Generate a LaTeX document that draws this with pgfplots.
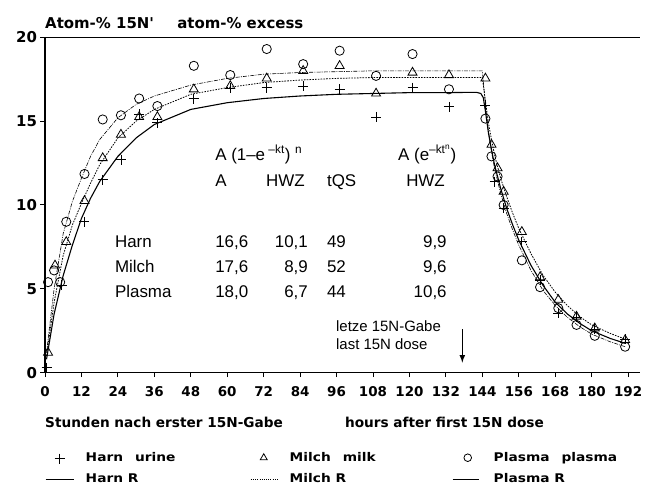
\documentclass[border=0pt]{standalone}
\usepackage{pgfplots}
\pgfplotsset{compat=1.18}
\usepackage{fontspec}
\setmainfont{Liberation Sans}
\newfontfamily\heavy{DejaVu Sans}
\newfontfamily\heavyx[FakeStretch=1.15]{DejaVu Sans}
\newcommand\hv{\heavy\bfseries}
\newcommand\hvx{\heavyx\bfseries}
\pgfplotsset{
  legA/.style={legend image code/.code={\path[draw=none,fill=none] (0,-4bp) rectangle (32bp,4bp); \draw[##1] plot coordinates {(14bp,0)};}},
  legB/.style={legend image code/.code={\path[draw=none,fill=none] (0,-4bp) rectangle (32bp,4bp); \draw[##1, mark size=4bp] plot coordinates {(15bp,1bp)};}},
  legC/.style={legend image code/.code={\path[draw=none,fill=none] (0,-4bp) rectangle (35bp,4bp); \draw[##1, mark size=3.8bp] plot coordinates {(22bp,1bp)};}},
  legD/.style={legend image code/.code={\path[draw=none,fill=none] (0,-4bp) rectangle (32bp,4bp); \draw[##1] (0bp,0) -- (28bp,0);}},
  legE/.style={legend image code/.code={\path[draw=none,fill=none] (0,-4bp) rectangle (32bp,4bp); \draw[##1, line width=0.6pt, dash pattern=on 1pt off 1.2pt] (2bp,0) -- (29bp,0);}},
  legF/.style={legend image code/.code={\path[draw=none,fill=none] (0,-4bp) rectangle (35bp,4bp); \draw[##1, solid] (7bp,0) -- (33bp,0);}},
}
\begin{document}
\begin{tikzpicture}
\path[use as bounding box] (0,0) rectangle (649bp,490bp);
\begin{axis}[
  at={(45bp,117.3bp)}, anchor=south west,
  scale only axis, width=595bp, height=335.4bp,
  xmin=0, xmax=195.9, ymin=0, ymax=20,
  axis x line*=box, axis y line*=left,
  xtick={0,12,...,192}, ytick={0,5,...,20},
  xtick pos=left, ytick pos=left,
  tick align=outside, major tick length=4.5bp,
  axis line style={line width=1.1pt},
  every tick/.style={line width=1pt, black},
  xticklabel style={font=\hv\fontsize{13.5}{14}\selectfont, yshift=-6bp},
  yticklabel style={font=\hv\fontsize{15}{15}\selectfont},
  /pgf/number format/assume math mode=true,
  clip=false,
  legend columns=3,
  legend cell align=left,
  legend style={at={(axis description cs:0,-0.238)}, anchor=north west,
    draw=none, fill=none, inner sep=0pt, row sep=8.5bp, column sep=0pt,
    font=\hvx\fontsize{12}{12}\selectfont,
    nodes={inner sep=0pt, text height=9bp, text depth=3bp}},
]
% data
\addplot[only marks, mark=+, mark size=5bp, mark options={line width=0.8pt}, legA]
  coordinates {(0.5,0.3)(5.5,5.2)(13,9.0)(19,11.5)(25,12.7)(31,15.4)(37,14.9)(49,16.35)(61,16.95)(73,17.0)(85,17.1)(97,16.9)(109,15.25)(121,17.0)(133,15.85)(145,15.95)(148,11.4)(151,9.8)(157,7.8)(163,5.5)(169,3.55)(175,3.3)(181,2.6)(191,2.0)};
\addlegendentry{\makebox[171bp][l]{\hspace{8bp}Harn\hspace{12bp}urine}}
\addplot[only marks, mark=triangle, mark size=5.2bp, mark options={line width=0.8pt}, legB]
  coordinates {(1,1.2)(3.3,6.4)(7,7.8)(13,10.25)(19,12.8)(25,14.2)(31,15.25)(37,15.25)(49,16.9)(61,17.1)(73,17.55)(85,18.0)(97,18.3)(109,16.65)(121,17.9)(133,17.75)(145,17.55)(147,13.6)(149,12.2)(151,10.8)(157,8.4)(163,5.7)(169,4.35)(175,3.35)(181,2.65)(191,1.95)};
\addlegendentry{\makebox[165bp][l]{\hspace{9bp}Milch\hspace{12bp}milk}}
\addplot[only marks, mark=o, mark size=4.6bp, mark options={line width=0.8pt}, legC]
  coordinates {(1,5.4)(3,6.1)(5,5.4)(7,9.0)(13,11.85)(19,15.1)(25,15.35)(31,16.35)(37,15.9)(49,18.3)(61,17.75)(73,19.3)(85,18.4)(97,19.2)(109,17.7)(121,19.0)(133,16.9)(145,15.15)(147,12.9)(149,11.7)(151,10.0)(157,6.7)(163,5.1)(169,3.85)(175,2.85)(181,2.2)(191,1.55)};
\addlegendentry{\makebox[150bp][l]{\hspace{13bp}Plasma\hspace{12bp}plasma}}
% fitted curves
\addplot[line width=1.1pt, legD]
  coordinates {(0.5,0.8)(3,3.5)(6,5.8)(9,7.6)(12,9.2)(15,10.4)(18,11.4)(24,12.9)(30,14.0)(36,14.8)(48,15.7)(60,16.1)(72,16.35)(84,16.5)(96,16.6)(108,16.65)(120,16.7)(132,16.7)(142,16.72)(143.5,16.65)(144.3,16.4)(145,15.6)(146,14.3)(147,13.3)(148,12.4)(150,11.0)(152,9.8)(154,8.8)(156,7.9)(160,6.4)(164,5.2)(168,4.2)(172,3.5)(176,2.95)(180,2.5)(186,2.05)(191,1.75)};
\addlegendentry{\makebox[171bp][l]{\hspace{8bp}Harn R}}
\addplot[line width=0.8pt, dash pattern=on 1.6pt off 1.2pt, legE]
  coordinates {(0.5,1.0)(3,4.2)(6,7.0)(9,8.8)(12,10.1)(15,11.3)(18,12.4)(24,14.0)(30,15.0)(36,15.7)(48,16.6)(60,17.0)(72,17.3)(84,17.45)(96,17.55)(108,17.6)(144,17.6)(145,16.2)(146,14.9)(147,13.9)(148,13.0)(150,11.6)(152,10.5)(154,9.5)(156,8.6)(160,7.1)(164,5.8)(168,4.8)(172,4.0)(176,3.35)(180,2.85)(186,2.35)(191,2.0)};
\addlegendentry{\makebox[165bp][l]{\hspace{9bp}Milch R}}
\addplot[line width=0.6pt, dash pattern=on 4pt off 1.2pt on 1pt off 1.2pt, legF]
  coordinates {(0.5,1.2)(3,5.0)(6,8.3)(9,10.2)(12,11.6)(15,12.9)(18,13.9)(24,15.2)(30,16.0)(36,16.5)(48,17.15)(60,17.55)(72,17.8)(84,17.9)(96,17.95)(108,18.0)(144,18.0)(144.5,17.0)(145,16.0)(146,14.4)(147,13.2)(148,12.2)(150,10.7)(152,9.5)(154,8.5)(156,7.6)(160,6.1)(164,4.9)(168,4.0)(172,3.3)(176,2.75)(180,2.3)(186,1.85)(191,1.55)};
\addlegendentry{\makebox[150bp][l]{\hspace{13bp}Plasma R}}
% texts
\node[anchor=base west, font=\hv\fontsize{15}{15}\selectfont, inner sep=0] at (axis description cs:0,1.0277) {Atom-\% 15N'};
\node[anchor=base west, font=\hv\fontsize{15}{15}\selectfont, inner sep=0] at (axis description cs:0.222,1.0277) {atom-\% excess};
\node[anchor=base west, font=\hv\fontsize{13.7}{14}\selectfont, inner sep=0] at (axis description cs:0,-0.162) {Stunden nach erster 15N-Gabe};
\node[anchor=base west, font=\hv\fontsize{13.7}{14}\selectfont, inner sep=0] at (axis description cs:0.504,-0.162) {hours after first 15N dose};
\begin{scope}[every node/.style={font=\fontsize{17}{17}\selectfont, inner sep=0}]
\node[anchor=base west] at (axis cs:56,12.68) {A (1--e\textsuperscript{ --kt}) \textsuperscript{n}};
\node[anchor=base west] at (axis cs:116.2,12.68) {A (e\textsuperscript{--kt\textsuperscript{n}})};
\node[anchor=base west] at (axis cs:56,11.13) {A};
\node[anchor=base east] at (axis cs:85.6,11.13) {HWZ};
\node[anchor=base west] at (axis cs:92.8,11.13) {tQS};
\node[anchor=base east] at (axis cs:131.7,11.13) {HWZ};
\node[anchor=base west] at (axis cs:23,7.49) {Harn};
\node[anchor=base west] at (axis cs:23,6.00) {Milch};
\node[anchor=base west] at (axis cs:23,4.51) {Plasma};
\node[anchor=base west] at (axis cs:56,7.49) {16,6};
\node[anchor=base west] at (axis cs:56,6.00) {17,6};
\node[anchor=base west] at (axis cs:56,4.51) {18,0};
\node[anchor=base east] at (axis cs:86.6,7.49) {10,1};
\node[anchor=base east] at (axis cs:86.6,6.00) {8,9};
\node[anchor=base east] at (axis cs:86.6,4.51) {6,7};
\node[anchor=base west] at (axis cs:92.8,7.49) {49};
\node[anchor=base west] at (axis cs:92.8,6.00) {52};
\node[anchor=base west] at (axis cs:92.8,4.51) {44};
\node[anchor=base east] at (axis cs:132.3,7.49) {9,9};
\node[anchor=base east] at (axis cs:132.3,6.00) {9,6};
\node[anchor=base east] at (axis cs:132.3,4.51) {10,6};
\end{scope}
\node[anchor=base west, font=\fontsize{15}{15}\selectfont, inner sep=0] at (axis cs:95.8,2.43) {letze 15N-Gabe};
\node[anchor=base west, font=\fontsize{15}{15}\selectfont, inner sep=0] at (axis cs:95.8,1.36) {last 15N dose};
\draw[line width=1.6pt, -latex] (axis cs:137.4,2.6) -- (axis cs:137.4,0.6);
\end{axis}
\end{tikzpicture}
\end{document}
